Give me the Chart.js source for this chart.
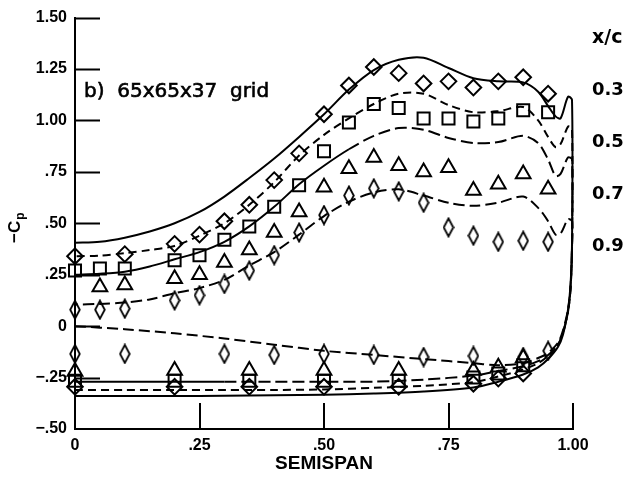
<!DOCTYPE html>
<html lang="en">
<head>
<meta charset="UTF-8">
<title>-Cp x semispan</title>
<script src="https://cdn.jsdelivr.net/npm/chart.js"></script>
<style>
  html, body { margin: 0; padding: 0; background: #fff; }
  #caixa { width: 636px; height: 477px; }
</style>
</head>
<body>
<div id="caixa"><canvas id="grafico"></canvas></div>
<script>
// eixos
const ticksSemispan = [0, 0.25, 0.5, 0.75, 1.0];
const ticksCp = [-0.5, -0.25, 0, 0.25, 0.5, 0.75, 1.0, 1.25, 1.5];
const estacoes = ['0.3', '0.5', '0.7', '0.9'];

// curvas calculadas - extradorso
const spanUp = [0, 0.05, 0.1, 0.15, 0.2, 0.25, 0.3, 0.35, 0.4, 0.45, 0.5, 0.55, 0.6, 0.65, 0.7, 0.75, 0.8, 0.85, 0.9, 0.93, 0.95, 0.965, 0.975, 0.99, 0.998];
const calc03Up = [0.405, 0.41, 0.43, 0.46, 0.50, 0.555, 0.63, 0.72, 0.815, 0.92, 1.03, 1.15, 1.245, 1.295, 1.305, 1.255, 1.205, 1.19, 1.185, 1.14, 1.07, 1.02, 1.01, 1.115, 1.10];
const calc05Up = [0.34, 0.343, 0.355, 0.37, 0.39, 0.44, 0.50, 0.59, 0.70, 0.83, 0.93, 1.01, 1.08, 1.13, 1.13, 1.075, 1.04, 1.045, 1.065, 1.0, 0.92, 0.87, 0.885, 0.97, 0.96];
const calc07Up = [0.25, 0.255, 0.265, 0.29, 0.325, 0.36, 0.41, 0.485, 0.58, 0.69, 0.78, 0.86, 0.925, 0.963, 0.955, 0.915, 0.89, 0.895, 0.925, 0.89, 0.81, 0.73, 0.74, 0.82, 0.81];
const calc09Up = [0.105, 0.108, 0.115, 0.13, 0.16, 0.185, 0.225, 0.295, 0.36, 0.445, 0.535, 0.605, 0.65, 0.665, 0.635, 0.60, 0.585, 0.60, 0.63, 0.575, 0.51, 0.445, 0.45, 0.52, 0.51];

// curvas calculadas - intradorso
const spanLow = [0, 0.1, 0.2, 0.3, 0.4, 0.5, 0.6, 0.7, 0.8, 0.85, 0.9, 0.93, 0.95, 0.97, 0.98, 0.99, 0.995, 0.998];
const calc03Low = [-0.34, -0.34, -0.34, -0.338, -0.336, -0.334, -0.328, -0.318, -0.298, -0.27, -0.235, -0.2, -0.16, -0.1, -0.04, 0.08, 0.2, 0.4];
const calc05Low = [-0.31, -0.31, -0.31, -0.31, -0.31, -0.308, -0.3, -0.29, -0.272, -0.245, -0.21, -0.18, -0.145, -0.09, -0.03, 0.07, 0.18, 0.38];
const calc07Low = [-0.27, -0.27, -0.27, -0.27, -0.27, -0.27, -0.27, -0.26, -0.24, -0.218, -0.195, -0.17, -0.14, -0.09, -0.03, 0.07, 0.18, 0.38];
const calc09Low = [0, -0.015, -0.035, -0.06, -0.09, -0.12, -0.14, -0.16, -0.18, -0.19, -0.18, -0.155, -0.13, -0.08, -0.02, 0.08, 0.19, 0.38];

// experimental - extradorso
const exp03SpanUp = [0, 0.1, 0.2, 0.25, 0.3, 0.35, 0.4, 0.45, 0.5, 0.55, 0.6, 0.65, 0.7, 0.75, 0.8, 0.85, 0.9, 0.95];
const exp03Up = [0.34, 0.35, 0.40, 0.445, 0.51, 0.59, 0.71, 0.84, 1.03, 1.17, 1.26, 1.23, 1.18, 1.19, 1.16, 1.19, 1.21, 1.13];
const exp05SpanUp = [0, 0.05, 0.1, 0.2, 0.25, 0.3, 0.35, 0.4, 0.45, 0.5, 0.55, 0.6, 0.65, 0.7, 0.75, 0.8, 0.85, 0.9, 0.95];
const exp05Up = [0.27, 0.28, 0.28, 0.32, 0.345, 0.42, 0.485, 0.58, 0.685, 0.85, 0.99, 1.08, 1.06, 1.01, 1.01, 0.995, 1.01, 1.05, 1.04];
const exp07SpanUp = [0.05, 0.1, 0.2, 0.25, 0.3, 0.35, 0.4, 0.45, 0.5, 0.55, 0.6, 0.65, 0.7, 0.75, 0.8, 0.85, 0.9, 0.95];
const exp07Up = [0.19, 0.20, 0.23, 0.25, 0.31, 0.37, 0.455, 0.555, 0.675, 0.765, 0.82, 0.78, 0.75, 0.77, 0.66, 0.69, 0.74, 0.665];
const exp09SpanUp = [0, 0.05, 0.1, 0.2, 0.25, 0.3, 0.35, 0.4, 0.45, 0.5, 0.55, 0.6, 0.65, 0.7, 0.75, 0.8, 0.85, 0.9, 0.95];
const exp09Up = [0.08, 0.08, 0.085, 0.125, 0.15, 0.205, 0.27, 0.345, 0.455, 0.54, 0.635, 0.67, 0.655, 0.60, 0.48, 0.44, 0.41, 0.415, 0.41];

// experimental - intradorso
const expSpanLow = [0, 0.2, 0.35, 0.5, 0.65, 0.8, 0.85, 0.9];
const exp03Low = [-0.295, -0.295, -0.295, -0.295, -0.295, -0.28, -0.255, -0.23];
const exp05Low = [-0.265, -0.265, -0.265, -0.265, -0.265, -0.25, -0.23, -0.19];
const exp07Low = [-0.22, -0.215, -0.215, -0.215, -0.215, -0.215, -0.20, -0.155];
const exp09SpanLow = [0, 0.1, 0.3, 0.4, 0.5, 0.6, 0.7, 0.8, 0.9, 0.95];
const exp09Low = [-0.135, -0.135, -0.135, -0.14, -0.135, -0.14, -0.15, -0.145, -0.15, -0.12];

Chart.defaults.color = '#000';
Chart.defaults.font.family = '"Liberation Sans", Arial, sans-serif';

function pontos(xs, ys) {
    return xs.map(function (x, i) { return { x: x, y: ys[i] }; });
}

// intradorso de 0 ate a ponta, depois extradorso da ponta de volta ate 0
function laco(sLow, low, sUp, up) {
    return pontos(sLow, low).concat(pontos(sUp, up).reverse());
}

function rotulo(v) {
    if (v === 0) return '0';
    const abs = Math.abs(v);
    let t = abs.toFixed(2);
    if (abs < 1) t = t.slice(1);
    return (v < 0 ? '\u2212' : '') + t;
}

// losango estreito (x/c = 0.9)
function losangoEstreito() {
    const c = document.createElement('canvas');
    c.width = 12;
    c.height = 21;
    const g = c.getContext('2d');
    g.strokeStyle = '#000';
    g.lineWidth = 1.8;
    g.beginPath();
    g.moveTo(6, 1.5);
    g.lineTo(10.8, 10.5);
    g.lineTo(6, 19.5);
    g.lineTo(1.2, 10.5);
    g.closePath();
    g.stroke();
    return c;
}

const nLow = spanLow.length;

function linha(dados, dash) {
    return {
        type: 'scatter',
        data: dados,
        showLine: true,
        borderColor: '#000',
        borderWidth: 2,
        borderDash: dash,
        pointRadius: 0,
        tension: 0.3,
        fill: false,
        clip: false
    };
}

function marcador(dados, estilo, raio) {
    return {
        type: 'scatter',
        data: dados,
        showLine: false,
        pointStyle: estilo,
        pointRadius: raio,
        pointBorderColor: '#000',
        pointBackgroundColor: 'rgba(0,0,0,0)',
        pointBorderWidth: 2,
        clip: false
    };
}

const linha07 = linha(laco(spanLow, calc07Low, spanUp, calc07Up), []);
// 0.7: traco continuo no inicio, tracejado depois
linha07.segment = {
    borderDash: function (ctx) {
        const x = ctx.p0.parsed.x;
        if (ctx.p0DataIndex < nLow - 1) return x > 0.22 ? [12, 5] : [];
        return x > 0.58 ? [12, 5] : [];
    }
};

const anotacoes = {
    id: 'anotacoes',
    afterDraw(chart) {
        const ctx = chart.ctx;
        const area = chart.chartArea;
        const sx = chart.scales.x, sy = chart.scales.y;
        ctx.save();
        ctx.strokeStyle = '#000';
        ctx.lineWidth = 2;
        ctx.beginPath();
        ticksCp.forEach(function (v) {
            if (v === ticksCp[0]) return;
            const py = Math.round(sy.getPixelForValue(v)) + 0.5;
            ctx.moveTo(area.left, py);
            ctx.lineTo(area.left + 25, py);
        });
        ticksSemispan.forEach(function (v) {
            if (v === 0) return;
            const px = Math.round(sx.getPixelForValue(v));
            ctx.moveTo(px, area.bottom);
            ctx.lineTo(px, area.bottom - 26);
        });
        ctx.stroke();

        ctx.fillStyle = '#000';
        ctx.textBaseline = 'alphabetic';
        ctx.textAlign = 'left';
        ctx.lineWidth = 0.6;
        ctx.font = '20px "DejaVu Sans"';
        ctx.fillText('b)  65x65x37  grid', 84, 97);
        ctx.strokeText('b)  65x65x37  grid', 84, 97);

        ctx.font = 'bold 19px "DejaVu Sans"';
        ctx.fillText('x/c', 592, 43);
        ctx.font = 'bold 18px "DejaVu Sans"';
        estacoes.forEach(function (t, i) {
            ctx.fillText(t, 592, 95 + i * 52);
        });

        // titulo do eixo y: -Cp
        ctx.translate(20, 243);
        ctx.rotate(-Math.PI / 2);
        ctx.font = 'bold 17px "Liberation Sans"';
        ctx.fillText('\u2212C', 0, 0);
        const w = ctx.measureText('\u2212C').width;
        ctx.font = 'bold 12px "Liberation Sans"';
        ctx.fillText('p', w + 1, 4);
        ctx.restore();
    }
};

new Chart(document.getElementById('grafico'), {
    type: 'scatter',
    data: {
        datasets: [
            linha(laco(spanLow, calc03Low, spanUp, calc03Up), []),
            linha(laco(spanLow, calc05Low, spanUp, calc05Up), [8, 5]),
            linha07,
            linha(laco(spanLow, calc09Low, spanUp, calc09Up), [11, 5]),
            marcador(pontos(exp03SpanUp, exp03Up).concat(pontos(expSpanLow, exp03Low)), 'rectRot', 7.8),
            marcador(pontos(exp05SpanUp, exp05Up).concat(pontos(expSpanLow, exp05Low)), 'rect', 8.5),
            marcador(pontos(exp07SpanUp, exp07Up).concat(pontos(expSpanLow, exp07Low)), 'triangle', 8.5),
            marcador(pontos(exp09SpanUp, exp09Up).concat(pontos(exp09SpanLow, exp09Low)), losangoEstreito(), 8)
        ]
    },
    options: {
        responsive: true,
        maintainAspectRatio: false,
        animation: false,
        layout: { padding: { top: 12, right: 63, left: 0, bottom: 0 } },
        plugins: {
            legend: { display: false },
            tooltip: { enabled: false }
        },
        scales: {
            x: {
                type: 'linear',
                min: 0,
                max: 1,
                afterBuildTicks: function (s) { s.ticks = ticksSemispan.map(function (v) { return { value: v }; }); },
                afterFit: function (s) { s.height = 48; },
                ticks: {
                    callback: rotulo,
                    font: { size: 16, weight: 'bold' },
                    padding: 7,
                    maxRotation: 0,
                    autoSkip: false
                },
                grid: { display: false, drawTicks: false },
                border: { display: true, color: '#000', width: 2 },
                title: {
                    display: true,
                    text: 'SEMISPAN',
                    font: { size: 19, weight: 'bold' },
                    padding: { top: 0, bottom: 2 }
                }
            },
            y: {
                type: 'linear',
                min: -0.5,
                max: 1.5,
                afterBuildTicks: function (s) { s.ticks = ticksCp.map(function (v) { return { value: v }; }); },
                afterFit: function (s) { s.width = 75; },
                ticks: {
                    callback: rotulo,
                    font: { size: 16, weight: 'bold' },
                    padding: 8,
                    autoSkip: false
                },
                grid: { display: false, drawTicks: false },
                border: { display: true, color: '#000', width: 2 }
            }
        }
    },
    plugins: [anotacoes]
});
</script>
</body>
</html>
